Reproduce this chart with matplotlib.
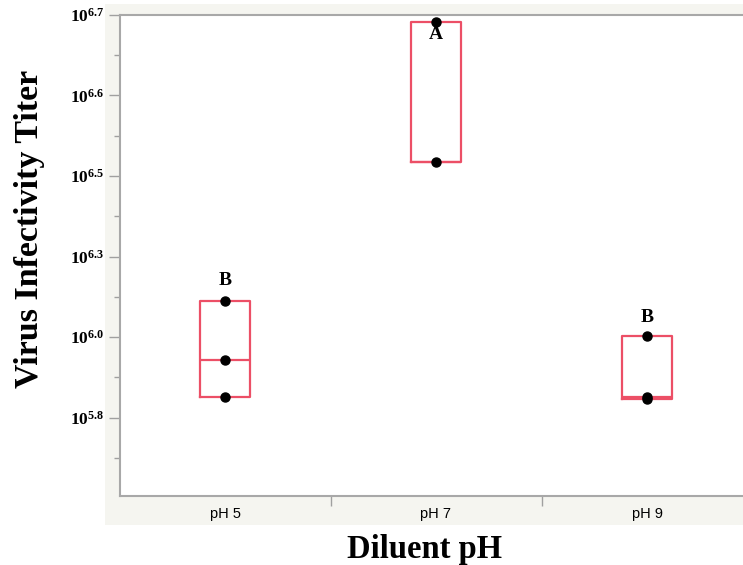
import matplotlib
matplotlib.use('Agg')
import matplotlib.pyplot as plt
import numpy as np
from matplotlib.patches import Rectangle

# data (axis units; tick k sits at y=k)
groups = ['pH 5', 'pH 7', 'pH 9']
ph5 = [1.45, 0.72, 0.26]
ph7 = [4.91, 3.17]
ph9 = [1.01, 0.255, 0.235]
letters = ['B', 'A', 'B']
letter_y = [1.7, 4.76, 1.24]
tick_pos = [0, 1, 2, 3, 4, 5]
tick_labels = [r'$10^{5.8}$', r'$10^{6.0}$', r'$10^{6.3}$',
               r'$10^{6.5}$', r'$10^{6.6}$', r'$10^{6.7}$']

plt.rcParams['mathtext.fontset'] = 'custom'
plt.rcParams['mathtext.rm'] = 'Liberation Serif:bold'
plt.rcParams['mathtext.it'] = 'Liberation Serif:bold'
plt.rcParams['mathtext.bf'] = 'Liberation Serif:bold'

W, H = 743, 565
fig = plt.figure(figsize=(W / 100, H / 100), dpi=100)
fig.patch.set_facecolor('white')

# grey frame behind the plot
fig.patches.append(Rectangle((105 / W, 1 - 525 / H), 1, (525 - 3.5) / H,
                             transform=fig.transFigure, facecolor='#f5f5f0',
                             edgecolor='none', zorder=-10))

ax = fig.add_axes([119.5 / W, 1 - 496 / H, 633 / W, (496 - 14.7) / H])
ax.set_facecolor('white')

data = [ph5, ph7, ph9]
stats = []
for name, vals in zip(groups, data):
    v = np.array(vals)
    q1 = np.percentile(v, 25, method='weibull')
    q3 = np.percentile(v, 75, method='weibull')
    med = np.median(v) if len(v) > 2 else q1
    stats.append(dict(label=name, q1=q1, q3=q3, med=med,
                      whislo=q1, whishi=q3, fliers=[]))

red = '#ec4f66'
ax.bxp(stats, positions=range(3), widths=0.24, showcaps=False,
       boxprops=dict(color=red, linewidth=1.6),
       medianprops=dict(color=red, linewidth=1.6),
       whiskerprops=dict(color=red, linewidth=1.6))

for i, vals in enumerate(data):
    ax.plot([i] * len(vals), vals, 'o', color='black', markersize=6.5, zorder=5)

for i, (lt, ly) in enumerate(zip(letters, letter_y)):
    ax.text(i, ly, lt, ha='center', va='center', fontsize=14,
            fontweight='bold', family='Liberation Serif')

ax.set_xlim(-0.5, 2.5)
ax.set_ylim(-0.97, 5)
ax.set_yticks(tick_pos)
ax.set_yticklabels(tick_labels, fontsize=12.5)
ax.set_yticks(np.arange(-0.5, 5, 1), minor=True)
ax.tick_params(axis='y', which='major', length=8, width=1, color='#a0a0a0', pad=3)
ax.tick_params(axis='y', which='minor', length=4, width=1, color='#a0a0a0')

ax.set_xticks(range(3))
ax.set_xticklabels(groups, fontsize=10.5, family='Liberation Sans')
ax.set_xticks([0.5, 1.5], minor=True)
ax.tick_params(axis='x', which='major', length=0, pad=8)
ax.tick_params(axis='x', which='minor', length=7, width=1, color='#a0a0a0')

for s in ['left', 'bottom', 'top']:
    ax.spines[s].set_color('#a8a8a8')
    ax.spines[s].set_linewidth(1.5)
ax.spines['right'].set_visible(False)

fig.text(30 / W, 1 - 229 / H, 'Virus Infectivity Titer', rotation=90,
         ha='center', va='center', fontsize=24.5, fontweight='bold',
         family='Liberation Serif')
fig.text(424.5 / W, 1 - 558 / H, 'Diluent pH', ha='center', va='baseline',
         fontsize=23.5, fontweight='bold', family='Liberation Serif')

fig.savefig('out.png', dpi=100)
